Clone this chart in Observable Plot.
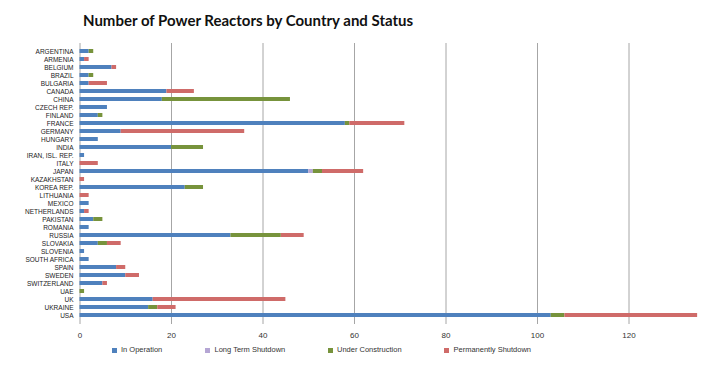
<!DOCTYPE html>
<html>
<head>
<meta charset="utf-8">
<script src="https://cdn.jsdelivr.net/npm/d3@7"></script>
<script src="https://cdn.jsdelivr.net/npm/@observablehq/plot@0.6"></script>
<style>
  html, body { margin: 0; padding: 0; background: #fff; }
  #wrap { position: relative; width: 720px; height: 367px; overflow: hidden; font-family: "Liberation Sans", Arial, sans-serif; }
  #title { position: absolute; left: 83px; top: 11px; font-family: Lato, sans-serif; font-weight: 700; font-size: 15px; color: #111; white-space: nowrap; }
  #chart { position: absolute; left: 0; top: 38px; }
  .lg { position: absolute; top: 345px; font-size: 7.5px; color: #333; white-space: nowrap; line-height: 10px; }
  .sw { position: absolute; top: 347.5px; width: 5px; height: 5px; }
</style>
</head>
<body>
<div id="wrap">
  <div id="title">Number of Power Reactors by Country and Status</div>
  <div id="chart"></div>
  <div id="legend"></div>
</div>
<script>
const countries = ["ARGENTINA","ARMENIA","BELGIUM","BRAZIL","BULGARIA","CANADA","CHINA","CZECH REP.","FINLAND","FRANCE","GERMANY","HUNGARY","INDIA","IRAN, ISL. REP.","ITALY","JAPAN","KAZAKHSTAN","KOREA REP.","LITHUANIA","MEXICO","NETHERLANDS","PAKISTAN","ROMANIA","RUSSIA","SLOVAKIA","SLOVENIA","SOUTH AFRICA","SPAIN","SWEDEN","SWITZERLAND","UAE","UK","UKRAINE","USA"];
const inOperation =         [2,1,7,2,2,19,18,6,4,58,9,4,20,1,0,50,0,23,0,2,1,3,2,33,4,1,2,8,10,5,0,16,15,103];
const longTermShutdown =    [0,0,0,0,0,0,0,0,0,0,0,0,0,0,0,1,0,0,0,0,0,0,0,0,0,0,0,0,0,0,0,0,0,0];
const underConstruction =   [1,0,0,1,0,0,28,0,1,1,0,0,7,0,0,2,0,4,0,0,0,2,0,11,2,0,0,0,0,0,1,0,2,3];
const permanentlyShutdown = [0,1,1,0,4,6,0,0,0,12,27,0,0,0,4,9,1,0,2,0,1,0,0,5,3,0,0,2,3,1,0,29,4,29];
const statuses = ["In Operation","Long Term Shutdown","Under Construction","Permanently Shutdown"];
const colors = ["#4f81bd","#b5a6d4","#77933c","#cf6b69"];
const xTicks = [0,20,40,60,80,100,120];

const series = [inOperation, longTermShutdown, underConstruction, permanentlyShutdown];
const data = [];
countries.forEach((c, i) => {
  statuses.forEach((s, j) => data.push({country: c, status: s, value: series[j][i]}));
});

const chart = Plot.plot({
  width: 720,
  height: 306,
  marginLeft: 79.5,
  marginRight: 0,
  marginTop: 5,
  marginBottom: 20,
  style: {fontFamily: "Liberation Sans, Arial, sans-serif", background: "#fff", overflow: "visible"},
  x: {domain: [0, 140], ticks: xTicks, label: null, tickSize: 0, tickPadding: 8},
  y: {domain: countries, paddingInner: 0.45, paddingOuter: 0.2, label: null, tickSize: 0, tickPadding: 6.5},
  color: {domain: statuses, range: colors},
  marks: [
    Plot.ruleX(xTicks.slice(1), {stroke: "#a6a6a6", strokeWidth: 1}),
    Plot.ruleX([0], {stroke: "#a6a6a6", strokeWidth: 1}),
    Plot.barX(data, {y: "country", x: "value", fill: "status", order: statuses}),
    Plot.axisY({tickSize: 0, tickPadding: 6.5, fontSize: 6.5, fill: "#222", label: null}),
    Plot.axisX({ticks: xTicks, tickSize: 0, tickPadding: 8, fontSize: 8, fill: "#333", label: null})
  ]
});
document.getElementById("chart").appendChild(chart);

const legend = document.getElementById("legend");
const swX = [111.5, 205, 327.5, 444];
const txX = [121, 214.5, 337, 453.5];
statuses.forEach((s, i) => {
  const sw = document.createElement("div");
  sw.className = "sw"; sw.style.left = swX[i] + "px"; sw.style.background = colors[i];
  legend.appendChild(sw);
  const t = document.createElement("div");
  t.className = "lg"; t.style.left = txX[i] + "px"; t.textContent = s;
  legend.appendChild(t);
});
</script>
</body>
</html>
